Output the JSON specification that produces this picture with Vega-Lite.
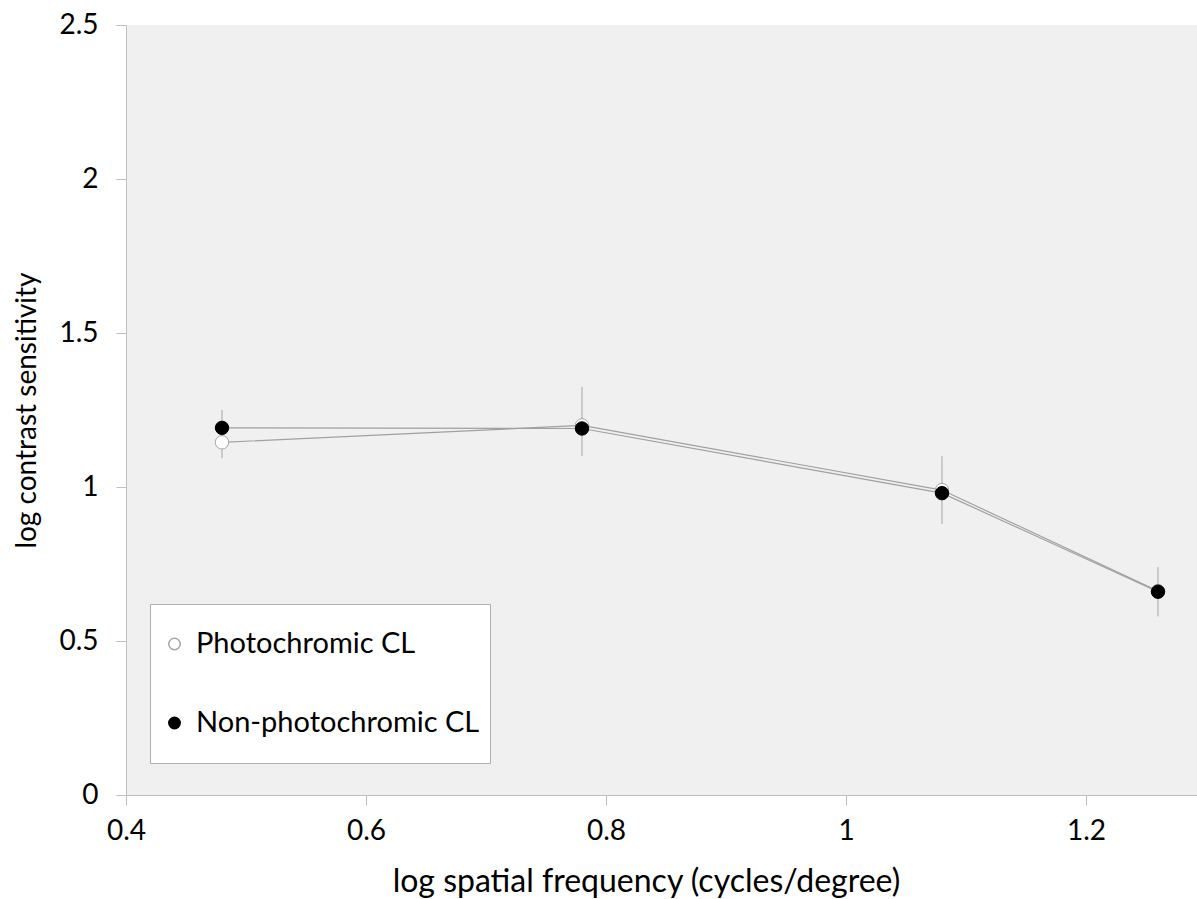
{
  "$schema": "https://vega.github.io/schema/vega-lite/v6.json",
  "width": 1071,
  "height": 770,
  "autosize": {"type": "none"},
  "padding": {"left": 126, "top": 25, "right": 0, "bottom": 104},
  "background": "white",
  "config": {
    "view": {"fill": "#f0f0f0", "stroke": null},
    "font": "Lato",
    "axis": {
      "domainColor": "#bfbfbf",
      "tickColor": "#bfbfbf",
      "tickSize": 10,
      "grid": false,
      "labelFlush": false,
      "labelOverlap": false,
      "labelFont": "Lato",
      "titleFont": "Lato",
      "labelFontSize": 28,
      "titleFontSize": 28,
      "labelColor": "black",
      "titleColor": "black",
      "titleFontWeight": "normal"
    }
  },
  "datasets": {
    "pts": [
      {"freq": 0.48, "lcs": 1.145, "lens": "Photochromic CL"},
      {"freq": 0.78, "lcs": 1.2, "lens": "Photochromic CL"},
      {"freq": 1.08, "lcs": 0.99, "lens": "Photochromic CL"},
      {"freq": 1.26, "lcs": 0.662, "lens": "Photochromic CL"},
      {"freq": 0.48, "lcs": 1.192, "lens": "Non-photochromic CL"},
      {"freq": 0.78, "lcs": 1.19, "lens": "Non-photochromic CL"},
      {"freq": 1.08, "lcs": 0.98, "lens": "Non-photochromic CL"},
      {"freq": 1.26, "lcs": 0.66, "lens": "Non-photochromic CL"}
    ],
    "err": [
      {"freq": 0.48, "lo": 1.093, "hi": 1.25},
      {"freq": 0.78, "lo": 1.1, "hi": 1.325},
      {"freq": 1.08, "lo": 0.88, "hi": 1.1},
      {"freq": 1.26, "lo": 0.58, "hi": 0.74}
    ]
  },
  "layer": [
    {
      "data": {"name": "err"},
      "mark": {"type": "rule", "color": "#a6a6a6", "strokeWidth": 1},
      "encoding": {
        "x": {"field": "freq", "type": "quantitative"},
        "y": {"field": "lo", "type": "quantitative"},
        "y2": {"field": "hi"}
      }
    },
    {
      "data": {"name": "pts"},
      "mark": {"type": "line", "color": "#a0a0a0", "strokeWidth": 1.2},
      "encoding": {
        "x": {
          "field": "freq", "type": "quantitative",
          "scale": {"domain": [0.4, 1.2925], "nice": false, "zero": false},
          "axis": {"values": [0.4, 0.6, 0.8, 1, 1.2], "format": "~g", "title": "log spatial frequency (cycles/degree)", "titleFontSize": 32, "titleX": 520, "labelPadding": 12, "titlePadding": 21}
        },
        "y": {
          "field": "lcs", "type": "quantitative",
          "scale": {"domain": [0, 2.5], "nice": false},
          "axis": {"values": [0, 0.5, 1, 1.5, 2, 2.5], "format": "~g", "title": "log contrast sensitivity", "labelPadding": 18, "titlePadding": 17}
        },
        "detail": {"field": "lens"}
      }
    },
    {
      "data": {"name": "pts"},
      "mark": {"type": "point", "shape": "circle", "filled": true, "size": 180, "opacity": 1, "strokeWidth": 1},
      "encoding": {
        "x": {"field": "freq", "type": "quantitative"},
        "y": {"field": "lcs", "type": "quantitative"},
        "fill": {
          "field": "lens", "type": "nominal",
          "scale": {"domain": ["Photochromic CL", "Non-photochromic CL"], "range": ["white", "black"]},
          "legend": {"orient": "none", "legendX": 24, "legendY": 579, "title": null, "labelFontSize": 29, "labelFont": "Lato", "labelColor": "black", "labelLimit": 0, "symbolSize": 130, "symbolType": "circle", "clipHeight": 60, "rowPadding": 19, "padding": 10, "labelOffset": 7, "fillColor": "white", "strokeColor": "#b0b0b0"}
        },
        "stroke": {
          "field": "lens", "type": "nominal",
          "scale": {"domain": ["Photochromic CL", "Non-photochromic CL"], "range": ["#a6a6a6", "black"]},
          "legend": {"orient": "none", "legendX": 24, "legendY": 579, "title": null, "labelFontSize": 29, "labelFont": "Lato", "labelColor": "black", "labelLimit": 0, "symbolSize": 130, "symbolType": "circle", "clipHeight": 60, "rowPadding": 19, "padding": 10, "labelOffset": 7, "fillColor": "white", "strokeColor": "#b0b0b0"}
        }
      }
    }
  ]
}
